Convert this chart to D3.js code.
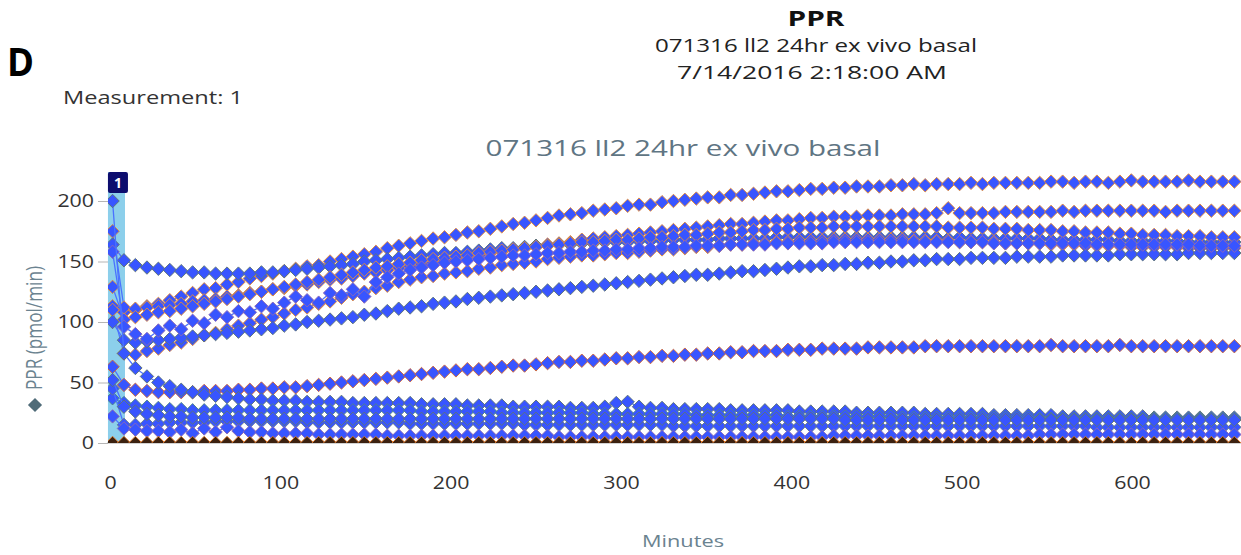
<!DOCTYPE html>
<html>
<head>
<meta charset="utf-8">
<script src="https://cdn.jsdelivr.net/npm/d3@7"></script>
<style>
  body { margin: 0; background: #fff; }
  svg { display: block; font-family: "Open Sans", sans-serif; }
</style>
</head>
<body>
<div id="chart"></div>
<script>

// Measurement times (minutes)
const minutes = [1.5,8.2,14.9,21.7,28.4,35.1,41.8,48.5,55.3,62.0, 68.7,75.4,82.1,88.9,95.6,102.3,109.0,115.7,122.5,129.2,
  135.9,142.6,149.3,156.1,162.8,169.5,176.2,182.9,189.7,196.4, 203.1,209.8,216.5,223.3,230.0,236.7,243.4,250.1,256.9,263.6,
  270.3,277.0,283.7,290.5,297.2,303.9,310.6,317.3,324.1,330.8, 337.5,344.2,350.9,357.7,364.4,371.1,377.8,384.5,391.3,398.0,
  404.7,411.4,418.1,424.9,431.6,438.3,445.0,451.7,458.5,465.2, 471.9,478.6,485.3,492.1,498.8,505.5,512.2,518.9,525.7,532.4,
  539.1,545.8,552.5,559.3,566.0,572.7,579.4,586.1,592.9,599.6, 606.3,613.0,619.7,626.5,633.2,639.9,646.6,653.3,660.1];

// PPR (pmol/min), one array per well
const ppr1 = [113,108,110,113,115,118,121,124,127,128, 131,133,136,138,140,142,144,146,147,150, 152,154,156,158,161,163,165,167,169,170,
  172,174,175,177,179,181,182,184,186,188, 189,190,192,193,194,196,197,197,199,200, 201,202,203,203,205,205,206,207,208,208,
  209,210,210,211,211,212,212,212,213,213, 214,213,214,214,214,215,214,215,215,215, 215,215,216,216,215,216,216,215,216,217,
  216,216,216,216,217,216,216,216,216];
const ppr2 = [175,112,111,112,113,114,115,117,118,119, 121,122,124,125,127,128,130,131,133,135, 136,138,140,141,143,145,146,148,149,151,
  152,154,155,157,158,160,161,163,164,165, 166,168,169,170,171,172,173,174,175,176, 177,178,179,180,181,181,182,183,184,184,
  185,186,186,187,187,187,188,188,188,189, 189,189,190,194,190,190,190,190,191,191, 191,191,191,192,191,192,192,192,192,192,
  192,192,191,192,192,192,192,192,192];
const ppr3 = [164,151,147,145,144,143,142,141,141,140, 140,140,140,141,141,142,143,144,145,146, 147,148,150,151,152,153,154,155,156,157,
  157,158,159,160,161,161,162,163,163,164, 164,165,165,166,166,166,167,167,167,168, 168,168,168,169,169,169,169,169,170,170,
  170,170,170,170,170,170,170,170,170,170, 170,170,170,169,170,169,169,169,169,169, 169,169,168,168,168,168,168,168,167,167,
  167,167,167,167,166,166,166,166,166];
const ppr4 = [129,102,104,106,108,109,111,113,115,117, 119,121,123,125,127,129,131,133,135,137, 139,141,143,145,146,148,149,151,152,153,
  154,155,157,158,159,160,161,162,163,164, 165,166,166,167,168,168,169,170,170,171, 172,172,173,174,174,175,176,176,177,177,
  178,178,178,179,179,179,179,179,179,179, 179,179,179,178,178,178,178,177,177,177, 176,176,176,175,175,174,174,174,173,173,
  172,172,172,171,171,171,170,170,170];
const ppr5 = [110,74,73,76,78,81,83,86,89,91, 94,97,99,102,104,107,110,112,115,117, 120,123,125,128,130,133,135,137,138,140,
  141,142,144,145,147,148,149,150,152,153, 154,155,155,156,157,157,158,159,160,160, 161,162,162,163,164,164,165,165,166,166,
  167,167,167,168,168,168,168,168,168,168, 167,167,167,167,166,166,166,166,165,165, 165,165,164,164,164,163,163,163,163,162,
  162,162,162,162,161,161,161,161,161];
const ppr6 = [100,85,83,84,85,86,87,88,89,90, 91,92,93,94,95,97,98,100,101,102, 103,104,106,107,109,111,112,113,115,116,
  117,119,120,121,122,123,124,125,126,127, 128,129,130,131,132,133,134,135,136,137, 138,139,139,140,141,142,142,143,144,145,
  146,146,147,147,148,148,149,149,150,150, 151,151,152,152,152,153,153,153,153,154, 154,154,154,155,155,155,155,155,156,156,
  156,156,156,156,157,157,157,157,157];
const ppr7 = [158,96,90,86,93,97,94,101,99,106, 104,109,108,113,111,116,121,118,116,124, 122,127,121,133,137,140,143,145,147,149,
  150,151,152,153,154,155,155,156,157,157, 158,158,159,159,160,160,161,161,162,162, 162,163,163,163,164,164,164,164,165,165,
  165,165,165,166,166,166,166,166,166,166, 166,166,166,166,166,166,166,165,165,165, 165,165,165,165,165,165,164,164,164,164,
  164,164,164,164,164,163,163,163,163];
const ppr8 = [63,48,44,43,42,42,42,42,43,43, 43,44,44,45,45,46,46,47,48,49, 50,51,52,53,54,55,56,57,58,59,
  60,61,61,62,63,64,64,65,66,67, 67,68,68,69,70,70,71,71,72,72, 73,73,74,74,75,75,76,76,76,77,
  77,77,78,78,78,78,79,79,79,79, 79,80,80,80,80,80,80,80,80,80, 80,80,81,80,80,80,80,80,81,80,
  80,80,80,80,80,80,80,80,80];
const ppr9 = [200,74,62,55,50,47,44,42,40,39, 38,37,36,36,35,35,35,34,34,34, 34,33,33,33,33,33,33,32,32,32,
  32,31,31,31,31,30,30,30,30,30, 29,29,29,30,33,34,30,29,29,28, 28,28,28,28,27,27,27,27,27,27,
  26,26,26,26,26,25,25,25,25,25, 25,24,24,24,24,24,24,23,23,23, 23,23,23,22,22,22,22,22,22,22,
  22,21,21,21,21,21,21,21,21];
const ppr10 = [37,33,31,30,29,28,28,27,27,27, 27,27,27,27,27,27,27,27,27,27, 27,27,27,27,27,27,27,26,26,26,
  26,26,26,26,25,25,25,25,25,25, 25,25,24,24,24,24,24,24,24,24, 24,23,23,23,23,23,23,23,23,22,
  22,22,22,22,22,22,22,22,22,21, 21,21,21,21,21,21,21,21,21,21, 21,20,20,20,20,20,20,20,20,20,
  20,20,20,20,20,20,20,20,20];
const ppr11 = [45,15,15,16,16,17,17,17,17,18, 18,18,18,18,18,18,18,17,17,17, 17,17,17,17,17,17,16,16,16,16,
  16,16,16,16,16,16,15,15,15,15, 15,15,15,15,15,15,15,15,15,14, 14,14,14,14,14,14,14,14,14,14,
  14,14,14,14,14,14,14,14,14,14, 14,14,14,14,14,14,14,14,14,14, 14,14,14,14,14,14,13,13,13,13,
  13,13,13,13,13,13,13,13,13];
const ppr12 = [22,12,11,10,10,9,11,8,12,9, 13,10,9,9,8,8,8,8,7,7, 7,7,7,7,6,6,6,6,6,6,
  6,6,6,6,6,6,6,6,6,5, 5,5,5,5,5,5,5,5,5,5, 5,5,5,5,5,5,5,5,5,5,
  5,5,5,6,6,6,6,6,6,6, 6,6,6,6,6,6,6,6,6,6, 6,7,7,7,7,7,7,7,7,7,
  7,7,7,7,7,7,7,7,7];
const ppr13 = [52,30,26,24,23,22,22,21,21,21, 21,21,20,20,20,20,20,20,20,20, 20,20,20,20,20,20,20,20,20,20,
  20,20,20,20,20,20,20,20,20,20, 20,20,20,20,20,20,20,20,20,20, 20,20,20,20,20,20,20,20,20,20,
  20,20,20,20,19,19,19,19,19,19, 19,19,19,19,19,19,19,19,19,19, 19,19,19,19,19,19,19,19,19,19,
  19,19,19,19,19,19,19,19,19];
const ppr14 = [0,0,0,0,0,0,0,0,0,0, 0,0,0,0,0,0,0,0,0,0, 0,0,0,0,0,0,0,0,0,0,
  0,0,0,0,0,0,0,0,0,0, 0,0,0,0,0,0,0,0,0,0, 0,0,0,0,0,0,0,0,0,0,
  0,0,0,0,0,0,0,0,0,0, 0,0,0,0,0,0,0,0,0,0, 0,0,0,0,0,0,0,0,0,0,
  0,0,0,0,0,0,0,0,0];

const xTicks = [0, 100, 200, 300, 400, 500, 600];
const yTicks = [0, 50, 100, 150, 200];
const measurementBand = [-1.2, 8.8];
const measurementLabel = '1';

const panelLetter = 'D';
const measurementText = 'Measurement: 1';
const headerTitle = 'PPR';
const headerSubtitle = '071316 ll2 24hr ex vivo basal';
const headerDate = '7/14/2016 2:18:00 AM';
const chartTitle = '071316 ll2 24hr ex vivo basal';
const xTitle = 'Minutes';
const yTitle = 'PPR (pmol/min)';

// marker outline per well (kept apart from the values)
const outlineColors = ['#e3893a', '#e3893a', '#5d7477', '#e3893a', '#e3893a', '#5d7477', '#8a68b6',
  '#d0683c', '#5d7477', '#4f8686', '#667a8c', '#8a68b6', '#5d7477', '#e07a2c'];

class PprChart {

  constructor(_config, _data) {
    this.config = {
      parentElement: _config.parentElement,
      containerWidth: _config.containerWidth || 1241,
      containerHeight: _config.containerHeight || 555,
      plot: _config.plot || {left: 108, top: 172, right: 1241, bottom: 443}
    }
    this.data = _data;
    this.initVis();
  }

  initVis() {
    let vis = this;
    const p = vis.config.plot;

    vis.xScale = d3.scaleLinear().domain([0, 664]).range([110, 1241]);
    vis.yScale = d3.scaleLinear().domain([0, 200]).range([443, 201]);

    vis.svg = d3.select(vis.config.parentElement).append('svg')
      .attr('width', vis.config.containerWidth)
      .attr('height', vis.config.containerHeight)

    vis.svg.append('clipPath').attr('id', 'plot-clip')
      .append('rect')
      .attr('x', p.left).attr('y', p.top - 10)
      .attr('width', p.right - p.left).attr('height', p.bottom - p.top + 10)

    // header texts, widths matched to the reference (its text is wide)
    const addText = (txt, x, y, size, opts) => {
      const t = vis.svg.append('text')
        .attr('x', x).attr('y', y)
        .attr('font-size', size)
        .attr('fill', opts.fill || '#222')
        .attr('font-weight', opts.bold ? 700 : 400)
        .attr('text-anchor', opts.anchor || 'start')
        .text(txt)
      if (opts.width) t.attr('textLength', opts.width).attr('lengthAdjust', 'spacingAndGlyphs')
      return t
    }

    addText(panelLetter, 7, 76, 40, {bold: true, fill: '#000', width: 27})
    addText(measurementText, 63, 104, 19, {fill: '#333', width: 180})
    addText(headerTitle, 816, 26, 22, {bold: true, fill: '#111', anchor: 'middle', width: 57})
    addText(headerSubtitle, 816, 52, 18, {fill: '#222', anchor: 'middle', width: 322})
    addText(headerDate, 812, 79, 18, {fill: '#222', anchor: 'middle', width: 270})
    addText(chartTitle, 683, 156, 22.5, {fill: '#5f7583', anchor: 'middle', width: 395})
    addText(xTitle, 683, 547, 17, {fill: '#6b8390', anchor: 'middle', width: 82})

    // y axis title with diamond marker
    vis.svg.append('path')
      .attr('d', d3.symbol().type(d3.symbolSquare).size(100)())
      .attr('transform', 'translate(35,405) rotate(45)')
      .attr('fill', '#4f6b78')
    vis.svg.append('text')
      .attr('transform', 'translate(42,390) rotate(-90)')
      .attr('font-size', 21)
      .attr('fill', '#6b8390')
      .attr('textLength', 124).attr('lengthAdjust', 'spacingAndGlyphs')
      .text(yTitle)

    vis.bandG = vis.svg.append('g')
    vis.plotG = vis.svg.append('g').attr('clip-path', 'url(#plot-clip)')

    vis.xAxisG = vis.svg.append('g').attr('transform', `translate(0,${p.bottom})`)
    vis.yAxisG = vis.svg.append('g').attr('transform', `translate(${p.left},0)`)

    vis.xAxis = d3.axisBottom(vis.xScale).tickValues(xTicks).tickSize(0).tickPadding(34)
    vis.yAxis = d3.axisLeft(vis.yScale).tickValues(yTicks).tickSize(10).tickPadding(4)

    vis.updateVis();
  }

  updateVis() {
    let vis = this;
    vis.series = vis.data.map((vals, i) => ({
      id: i,
      outline: outlineColors[i],
      zero: d3.max(vals) === 0,
      points: vals.map((v, j) => ({t: minutes[j], v: v}))
    }))
    vis.renderVis();
  }

  renderVis() {
    let vis = this;
    const p = vis.config.plot;

    // measurement band
    vis.bandG.append('rect')
      .attr('x', vis.xScale(measurementBand[0]))
      .attr('y', p.top)
      .attr('width', vis.xScale(measurementBand[1]) - vis.xScale(measurementBand[0]))
      .attr('height', p.bottom - p.top)
      .attr('fill', '#8ccfeb')

    // baseline
    vis.svg.insert('line', 'g')
      .attr('x1', p.left - 1).attr('x2', p.right)
      .attr('y1', p.bottom).attr('y2', p.bottom)
      .attr('stroke', '#c4c4c4').attr('stroke-width', 1.5)

    const line = d3.line().x(d => vis.xScale(d.t)).y(d => vis.yScale(d.v))
    const diamond = d3.symbol().type(d3.symbolSquare).size(90)

    const seriesG = vis.plotG.selectAll('g.series')
      .data(vis.series)
      .join('g')
      .attr('class', 'series')

    seriesG.append('path')
      .attr('d', d => line(d.points))
      .attr('fill', 'none')
      .attr('stroke', d => d.zero ? '#6a3a1a' : '#4a72ff')
      .attr('stroke-width', 1.3)

    seriesG.selectAll('path.marker')
      .data(d => d.points.map(pt => ({...pt, s: d})))
      .join('path')
      .attr('class', 'marker')
      .attr('d', diamond)
      .attr('transform', d => `translate(${vis.xScale(d.t)},${vis.yScale(d.v)}) rotate(45)`)
      .attr('fill', d => d.s.zero ? '#3b2110' : '#3855ff')
      .attr('stroke', d => d.s.outline)
      .attr('stroke-width', 0.9)

    // band label
    vis.bandG.append('rect')
      .attr('x', vis.xScale(measurementBand[0])).attr('y', p.top)
      .attr('width', 20).attr('height', 21).attr('rx', 2)
      .attr('fill', '#0d0d6e')
    vis.svg.append('text')
      .attr('x', vis.xScale(measurementBand[0]) + 10).attr('y', p.top + 16)
      .attr('text-anchor', 'middle')
      .attr('font-size', 14).attr('font-weight', 700)
      .attr('fill', '#fff')
      .text(measurementLabel)

    // axes
    vis.xAxisG.call(vis.xAxis)
    vis.yAxisG.call(vis.yAxis)
    vis.svg.selectAll('.domain').remove()
    vis.yAxisG.selectAll('.tick line').attr('stroke', '#b5b5b5')
    vis.svg.selectAll('.tick text')
      .attr('font-family', '"Open Sans", sans-serif')
      .attr('font-size', 17.5)
      .attr('fill', '#333')
      .each(function() {
        const w = this.getComputedTextLength();
        d3.select(this).attr('textLength', w * 1.22).attr('lengthAdjust', 'spacingAndGlyphs')
      })
  }
}

const chart = new PprChart({parentElement: '#chart'},
  [ppr1, ppr2, ppr3, ppr4, ppr5, ppr6, ppr7, ppr8, ppr9, ppr10, ppr11, ppr12, ppr13, ppr14]);

</script>
</body>
</html>
